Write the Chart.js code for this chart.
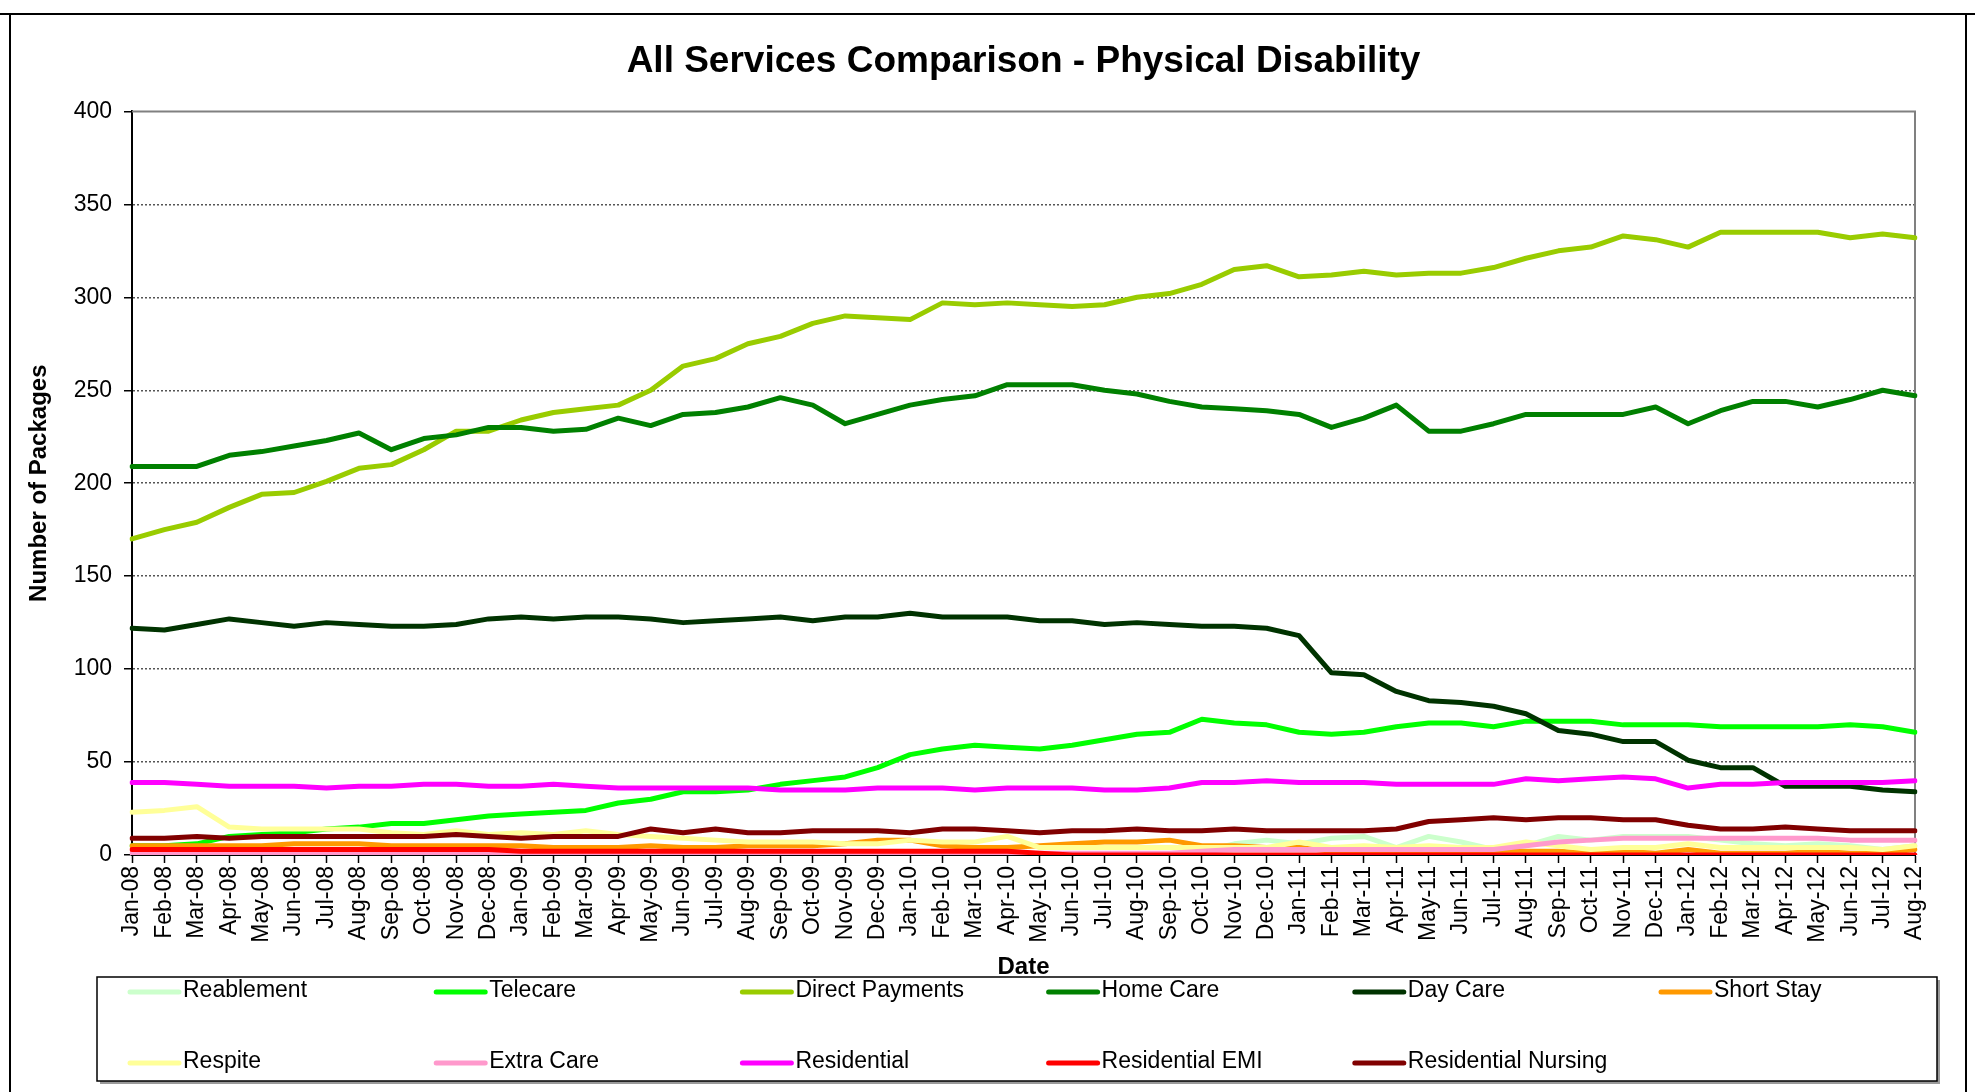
<!DOCTYPE html>
<html>
<head>
<meta charset="utf-8">
<title>All Services Comparison - Physical Disability</title>
<script src="https://cdn.jsdelivr.net/npm/chart.js@4"></script>
<style>
  html, body { margin: 0; padding: 0; background: #fff; }
  #wrap { width: 1975px; height: 1092px; }
</style>
</head>
<body>
<div id="wrap"><canvas id="services-chart" width="1975" height="1092"></canvas></div>
<script>
const months = [
  'Jan-08', 'Feb-08', 'Mar-08', 'Apr-08', 'May-08', 'Jun-08', 'Jul-08', 'Aug-08', 'Sep-08', 'Oct-08', 'Nov-08', 'Dec-08',
  'Jan-09', 'Feb-09', 'Mar-09', 'Apr-09', 'May-09', 'Jun-09', 'Jul-09', 'Aug-09', 'Sep-09', 'Oct-09', 'Nov-09', 'Dec-09',
  'Jan-10', 'Feb-10', 'Mar-10', 'Apr-10', 'May-10', 'Jun-10', 'Jul-10', 'Aug-10', 'Sep-10', 'Oct-10', 'Nov-10', 'Dec-10',
  'Jan-11', 'Feb-11', 'Mar-11', 'Apr-11', 'May-11', 'Jun-11', 'Jul-11', 'Aug-11', 'Sep-11', 'Oct-11', 'Nov-11', 'Dec-11',
  'Jan-12', 'Feb-12', 'Mar-12', 'Apr-12', 'May-12', 'Jun-12', 'Jul-12', 'Aug-12'
]

// packages per month, one array per service
const reablement = [
  null, null, null, null, null, null, null, null, null, null, null, null,
  null, null, null, null, null, null, null, null, null, null, null, null,
  null, null, null, null, null, null, null, null, null, 2, 6, 8,
  6, 9, 10, 4, 10, 7, 3, 5, 10, 8, 10, 10,
  10, 8, 6, 5, 6, 5, 3, 5
]
const telecare = [
  5, 5, 6, 10, 11, 12, 14, 15, 17, 17, 19, 21,
  22, 23, 24, 28, 30, 34, 34, 35, 38, 40, 42, 47,
  54, 57, 59, 58, 57, 59, 62, 65, 66, 73, 71, 70,
  66, 65, 66, 69, 71, 71, 69, 72, 72, 72, 70, 70,
  70, 69, 69, 69, 69, 70, 69, 66
]
const directPayments = [
  170, 175, 179, 187, 194, 195, 201, 208, 210, 218, 228, 228,
  234, 238, 240, 242, 250, 263, 267, 275, 279, 286, 290, 289,
  288, 297, 296, 297, 296, 295, 296, 300, 302, 307, 315, 317,
  311, 312, 314, 312, 313, 313, 316, 321, 325, 327, 333, 331,
  327, 335, 335, 335, 335, 332, 334, 332
]
const homeCare = [
  209, 209, 209, 215, 217, 220, 223, 227, 218, 224, 226, 230,
  230, 228, 229, 235, 231, 237, 238, 241, 246, 242, 232, 237,
  242, 245, 247, 253, 253, 253, 250, 248, 244, 241, 240, 239,
  237, 230, 235, 242, 228, 228, 232, 237, 237, 237, 237, 241,
  232, 239, 244, 244, 241, 245, 250, 247
]
const dayCare = [
  122, 121, 124, 127, 125, 123, 125, 124, 123, 123, 124, 127,
  128, 127, 128, 128, 127, 125, 126, 127, 128, 126, 128, 128,
  130, 128, 128, 128, 126, 126, 124, 125, 124, 123, 123, 122,
  118, 98, 97, 88, 83, 82, 80, 76, 67, 65, 61, 61,
  51, 47, 47, 37, 37, 37, 35, 34
]
const shortStay = [
  5, 5, 5, 5, 5, 6, 6, 6, 5, 5, 5, 5,
  5, 4, 4, 4, 5, 4, 4, 5, 5, 5, 6, 8,
  8, 5, 4, 4, 5, 6, 7, 7, 8, 5, 5, 4,
  4, 2, 2, 2, 2, 2, 2, 2, 2, 1, 2, 1,
  3, 1, 1, 1, 2, 1, 1, 3
]
const respite = [
  23, 24, 26, 15, 14, 14, 14, 14, 12, 11, 13, 11,
  12, 11, 13, 11, 10, 9, 8, 7, 7, 7, 6, 6,
  8, 7, 7, 10, 4, 4, 4, 4, 4, 4, 4, 4,
  7, 4, 5, 4, 5, 4, 4, 7, 5, 3, 4, 4,
  6, 4, 4, 4, 4, 4, 3, 5
]
const extraCare = [
  1, 1, 1, 1, 1, 1, 1, 1, 1, 1, 1, 1,
  1, 1, 1, 1, 1, 1, 1, 1, 1, 1, 1, 1,
  1, 1, 1, 1, 1, 1, 1, 1, 1, 2, 3, 3,
  3, 3, 3, 3, 3, 3, 3, 5, 7, 8, 9, 9,
  9, 9, 9, 9, 9, 8, 8, 8
]
const residential = [
  39, 39, 38, 37, 37, 37, 36, 37, 37, 38, 38, 37,
  37, 38, 37, 36, 36, 36, 36, 36, 35, 35, 35, 36,
  36, 36, 35, 36, 36, 36, 35, 35, 36, 39, 39, 40,
  39, 39, 39, 38, 38, 38, 38, 41, 40, 41, 42, 41,
  36, 38, 38, 39, 39, 39, 39, 40
]
const residentialEMI = [
  3, 3, 3, 3, 3, 3, 3, 3, 3, 3, 3, 3,
  2, 2, 2, 2, 2, 2, 2, 2, 2, 2, 2, 2,
  2, 2, 2, 2, 1, 0, 0, 0, 0, 0, 0, 0,
  0, 0, 0, 0, 0, 0, 0, 0, 0, 0, 0, 0,
  0, 0, 0, 0, 0, 0, 0, 0
]
const residentialNursing = [
  9, 9, 10, 9, 10, 10, 10, 10, 10, 10, 11, 10,
  9, 10, 10, 10, 14, 12, 14, 12, 12, 13, 13, 13,
  12, 14, 14, 13, 12, 13, 13, 14, 13, 13, 14, 13,
  13, 13, 13, 14, 18, 19, 20, 19, 20, 20, 19, 19,
  16, 14, 14, 15, 14, 13, 13, 13
]

const seriesNames = ['Reablement', 'Telecare', 'Direct Payments', 'Home Care', 'Day Care', 'Short Stay',
  'Respite', 'Extra Care', 'Residential', 'Residential EMI', 'Residential Nursing']
const seriesData = [reablement, telecare, directPayments, homeCare, dayCare, shortStay,
  respite, extraCare, residential, residentialEMI, residentialNursing]
const seriesColours = ['#ccffcc', '#00ff00', '#99cc00', '#008000', '#003300', '#ff9900',
  '#ffff99', '#ff99cc', '#ff00ff', '#ff0000', '#800000']

Chart.defaults.font.family = "'Liberation Sans', Arial, sans-serif"
Chart.defaults.color = '#000'

// white page, outer frame and the grey top/right edges of the plot area
const frame = {
  id: 'frame',
  beforeDraw(chart) {
    const { ctx, width, height } = chart
    ctx.save()
    ctx.fillStyle = '#fff'
    ctx.fillRect(0, 0, width, height)
    ctx.strokeStyle = '#000'
    ctx.lineWidth = 2
    ctx.beginPath()
    ctx.moveTo(0, 14)
    ctx.lineTo(width, 14)
    ctx.moveTo(10, 14)
    ctx.lineTo(10, height)
    ctx.moveTo(1966, 14)
    ctx.lineTo(1966, height)
    ctx.stroke()
    ctx.restore()
  },
  beforeDatasetsDraw(chart) {
    const { ctx, chartArea: a } = chart
    ctx.save()
    ctx.strokeStyle = '#808080'
    ctx.lineWidth = 2
    ctx.beginPath()
    ctx.moveTo(a.left, a.top)
    ctx.lineTo(a.right, a.top)
    ctx.lineTo(a.right, a.bottom)
    ctx.stroke()
    ctx.restore()
  }
}

// boxed legend laid out in six columns
const boxLegend = {
  id: 'boxLegend',
  afterDraw(chart) {
    const { ctx } = chart
    const left = 97, top = 977, right = 1937, bottom = 1081
    ctx.save()
    ctx.fillStyle = '#9a9a9a'
    ctx.fillRect(left + 3, top + 3, right - left, bottom - top)
    ctx.fillStyle = '#fff'
    ctx.fillRect(left, top, right - left, bottom - top)
    ctx.strokeStyle = '#000'
    ctx.lineWidth = 1.5
    ctx.strokeRect(left, top, right - left, bottom - top)
    ctx.font = "23px 'Liberation Sans', Arial, sans-serif"
    ctx.textBaseline = 'middle'
    ctx.textAlign = 'left'
    chart.data.datasets.forEach((ds, i) => {
      const col = i % 6
      const row = Math.floor(i / 6)
      const x = 183 + col * 306.2
      const y = row ? 1062 : 991
      ctx.strokeStyle = ds.borderColor
      ctx.lineWidth = 5
      ctx.lineCap = 'round'
      ctx.beginPath()
      ctx.moveTo(x - 53, y + 1)
      ctx.lineTo(x - 4, y + 1)
      ctx.stroke()
      ctx.fillStyle = '#000'
      ctx.fillText(ds.label, x, y)
    })
    ctx.restore()
  }
}

new Chart(document.getElementById('services-chart'), {
  type: 'line',
  data: {
    labels: months,
    datasets: seriesNames.map((name, i) => ({
      label: name,
      data: seriesData[i],
      borderColor: seriesColours[i],
      backgroundColor: seriesColours[i],
      borderWidth: 5,
      pointRadius: 0,
      tension: 0,
      fill: false,
      borderJoinStyle: 'round',
      borderCapStyle: 'round',
      order: seriesNames.length - i
    }))
  },
  options: {
    responsive: false,
    animation: false,
    layout: { padding: { left: 20, right: 60, top: 0, bottom: 107 } },
    plugins: {
      legend: { display: false },
      tooltip: { enabled: false },
      title: {
        display: true,
        fullSize: false,
        text: 'All Services Comparison - Physical Disability',
        color: '#000',
        font: { size: 37, weight: 'bold' },
        padding: { top: 40, bottom: 27 }
      }
    },
    scales: {
      x: {
        offset: false,
        ticks: { autoSkip: false, maxRotation: 90, minRotation: 90, color: '#000', font: { size: 23 }, padding: 3 },
        grid: { display: true, drawOnChartArea: false, drawTicks: true, tickLength: 8, tickColor: '#000', tickWidth: 1.5 },
        border: { color: '#000', width: 2 },
        title: { display: true, text: 'Date', color: '#000', font: { size: 24, weight: 'bold' }, padding: { top: 0, bottom: 3 } },
        afterFit(scale) { scale.height = 130 }
      },
      y: {
        min: 0,
        max: 400,
        ticks: { stepSize: 50, color: '#000', font: { size: 23 }, padding: 12 },
        grid: {
          color: c => (c.tick && (c.tick.value === 0 || c.tick.value === 400)) ? 'rgba(0,0,0,0)' : '#555',
          lineWidth: 1.5,
          tickLength: 8,
          tickColor: '#000',
          tickWidth: 1.5,
          tickBorderDash: []
        },
        border: { color: '#000', width: 2, dash: [2, 2] },
        title: { display: true, text: 'Number of Packages', color: '#000', font: { size: 24, weight: 'bold' }, padding: { top: 5, bottom: 0 } },
        afterFit(scale) { scale.width = 112 }
      }
    }
  },
  plugins: [frame, boxLegend]
})
</script>
</body>
</html>
